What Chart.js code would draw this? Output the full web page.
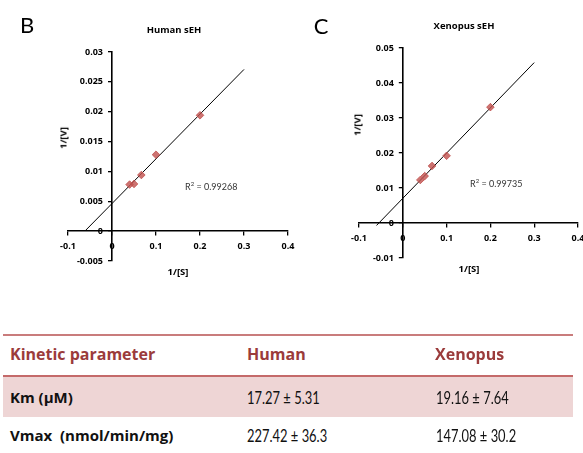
<!DOCTYPE html>
<html>
<head>
<meta charset="utf-8">
<script src="https://cdn.jsdelivr.net/npm/chart.js@4.4.1/dist/chart.umd.min.js"></script>
<style>
  html, body { margin:0; padding:0; background:#fff; }
  body { width:583px; height:453px; overflow:hidden; position:relative; font-family: Lato, "Open Sans", sans-serif; }
  .box { position:absolute; }
  .t { position:absolute; white-space:nowrap; transform:translate(-50%,-50%); color:#000; }
  .l { position:absolute; white-space:nowrap; transform:translateY(-50%); }
  .panel { font-size:22px; font-weight:400; }
  .ctitle { font-family:"Open Sans", sans-serif; font-size:9.5px; font-weight:700; }
  .axt { font-family:"Open Sans", sans-serif; font-size:9.5px; font-weight:700; }
  .r2 { font-size:9px; color:#333; transform:translate(0,-50%); }
  .hd { font-family:"Open Sans", Lato, sans-serif; font-weight:700; font-size:16px; color:#9b3b3b; }
  .rl { font-family:"Open Sans", Lato, sans-serif; font-weight:700; font-size:15px; color:#111; }
  .val { font-family:Lato, sans-serif; font-size:17px; color:#111; transform-origin:0 50%; transform:translateY(-50%) scaleX(0.76); }
</style>
</head>
<body>
<div class="box" style="left:0;top:0;width:300px;height:300px"><canvas id="cB"></canvas></div>
<div class="box" style="left:300px;top:0;width:283px;height:300px"><canvas id="cC"></canvas></div>

<div class="t panel" style="left:27px;top:24px">B</div>
<div class="t ctitle" style="left:174px;top:29px">Human sEH</div>
<div class="t axt" style="left:63px;top:138px;transform:translate(-50%,-50%) rotate(-90deg)">1/[V]</div>
<div class="t axt" style="left:178px;top:271px">1/[S]</div>
<div class="l r2" style="left:185px;top:186px">R<sup style="font-size:6px;vertical-align:4px">2</sup> = 0.99268</div>

<div class="t panel" style="left:321px;top:25px">C</div>
<div class="t ctitle" style="left:464px;top:25px">Xenopus sEH</div>
<div class="t axt" style="left:357px;top:125px;transform:translate(-50%,-50%) rotate(-90deg)">1/[V]</div>
<div class="t axt" style="left:469px;top:268px">1/[S]</div>
<div class="l r2" style="left:470px;top:183px">R<sup style="font-size:6px;vertical-align:4px">2</sup> = 0.99735</div>

<!-- table -->
<div class="box" style="left:3px;top:334px;width:570px;height:2px;background:#c97c7c"></div>
<div class="box" style="left:3px;top:376px;width:570px;height:41px;background:#eed5d5"></div>
<div class="box" style="left:3px;top:375px;width:570px;height:2px;background:#c46a6a"></div>
<div class="l hd" style="left:10px;top:354px">Kinetic parameter</div>
<div class="l hd" style="left:247px;top:354px">Human</div>
<div class="l hd" style="left:435px;top:354px">Xenopus</div>
<div class="l rl" style="left:10px;top:397px">Km (µM)</div>
<div class="l val" style="left:247px;top:397px">17.27 ± 5.31</div>
<div class="l val" style="left:436px;top:397px">19.16 ± 7.64</div>
<div class="l rl" style="left:10px;top:435px">Vmax&nbsp; (nmol/min/mg)</div>
<div class="l val" style="left:247px;top:435px">227.42 ± 36.3</div>
<div class="l val" style="left:436px;top:435px">147.08 ± 30.2</div>

<script>
// ---- data ----
const humanInvS = [0.04, 0.05, 0.0667, 0.1, 0.2];
const humanInvV = [0.0078, 0.0079, 0.0094, 0.0128, 0.0194];
const xenoInvS  = [0.04, 0.05, 0.0667, 0.1, 0.2];
const xenoInvV  = [0.0123, 0.0134, 0.0163, 0.0192, 0.0331];

const xTicks = [-0.1, 0, 0.1, 0.2, 0.3, 0.4];
const xTickLabels = ['-0.1', '0', '0.1', '0.2', '0.3', '0.4'];
const yTicksHuman = [-0.005, 0, 0.005, 0.01, 0.015, 0.02, 0.025, 0.03];
const yTickLabelsHuman = ['-0.005', '0', '0.005', '0.01', '0.015', '0.02', '0.025', '0.03'];
const yTicksXeno = [-0.01, 0, 0.01, 0.02, 0.03, 0.04, 0.05];
const yTickLabelsXeno = ['-0.01', '0', '0.01', '0.02', '0.03', '0.04', '0.05'];

// trendline forecast range (Excel style: back/forward 0.1)
const trendFrom = -0.06;
const trendTo = 0.3;

function linreg(xs, ys) {
  const n = xs.length;
  const mx = xs.reduce((a,b)=>a+b,0)/n, my = ys.reduce((a,b)=>a+b,0)/n;
  let sxy = 0, sxx = 0;
  for (let i=0;i<n;i++){ sxy += (xs[i]-mx)*(ys[i]-my); sxx += (xs[i]-mx)*(xs[i]-mx); }
  const b = sxy/sxx; return {a: my - b*mx, b};
}

const tickFont = {family: '"Open Sans", sans-serif', size: 9, weight: 'bold'};

// place the y axis on x = 0 (labels to its left, as in the original)
const yAtZero = {
  id: 'yAtZero',
  afterLayout(chart) {
    const px = chart.scales.x.getPixelForValue(0);
    const y = chart.scales.y;
    y.left = 0; y.right = px; y.width = px;
  }
};

function makeChart(id, xs, ys, yTicks, yLabels, pad) {
  const {a, b} = linreg(xs, ys);
  const pts = xs.map((x,i)=>({x, y: ys[i]}));
  const trend = [{x: trendFrom, y: a + b*trendFrom}, {x: trendTo, y: a + b*trendTo}];
  return new Chart(document.getElementById(id), {
    type: 'scatter',
    data: {
      datasets: [
        {type:'line', data: trend, borderColor:'#000', borderWidth:1, pointRadius:0, fill:false, order:2},
        {type:'scatter', data: pts, pointStyle:'rectRot', pointRadius:3.8, backgroundColor:'rgba(192,80,77,0.8)', borderColor:'rgba(192,80,77,0.8)', borderWidth:1, order:1}
      ]
    },
    plugins: [yAtZero],
    options: {
      responsive: true, maintainAspectRatio: false, animation: false,
      layout: {padding: pad},
      plugins: {legend: {display:false}, tooltip: {enabled:false}},
      scales: {
        x: {
          type: 'linear', position: {y: 0}, min: -0.1, max: 0.4,
          afterBuildTicks: s => { s.ticks = xTicks.map(v=>({value:v})); },
          afterFit: s => { s.height = 0; s.paddingLeft = 0; s.paddingRight = 0; },
          ticks: {font: tickFont, color:'#000', padding: 6, maxRotation:0, autoSkip:false,
                  callback: (v) => { const i = xTicks.findIndex(t=>Math.abs(t-v)<1e-9); return i>=0 ? xTickLabels[i] : ''; }},
          grid: {display:true, drawOnChartArea:false, drawTicks:true, tickLength:4, color:'#000', lineWidth:1.3},
          border: {display:true, color:'#000', width:1.6}
        },
        y: {
          type: 'linear', position: 'left', min: yTicks[0], max: yTicks[yTicks.length-1],
          afterBuildTicks: s => { s.ticks = yTicks.map(v=>({value:v})); },
          afterFit: s => { s.width = 0; s.paddingTop = 0; s.paddingBottom = 0; },
          ticks: {font: tickFont, color:'#000', padding: 5, autoSkip:false,
                  callback: (v) => { const i = yTicks.findIndex(t=>Math.abs(t-v)<1e-9); return i>=0 ? yLabels[i] : ''; }},
          grid: {display:true, drawOnChartArea:false, drawTicks:true, tickLength:4, color:'#000', lineWidth:1.3},
          border: {display:true, color:'#000', width:1.6}
        }
      }
    }
  });
}

makeChart('cB', humanInvS, humanInvV, yTicksHuman, yTickLabelsHuman, {left:68, right:12, top:52, bottom:39});
makeChart('cC', xenoInvS, xenoInvV, yTicksXeno, yTickLabelsXeno, {left:59, right:5, top:48, bottom:42});
</script>
</body>
</html>
